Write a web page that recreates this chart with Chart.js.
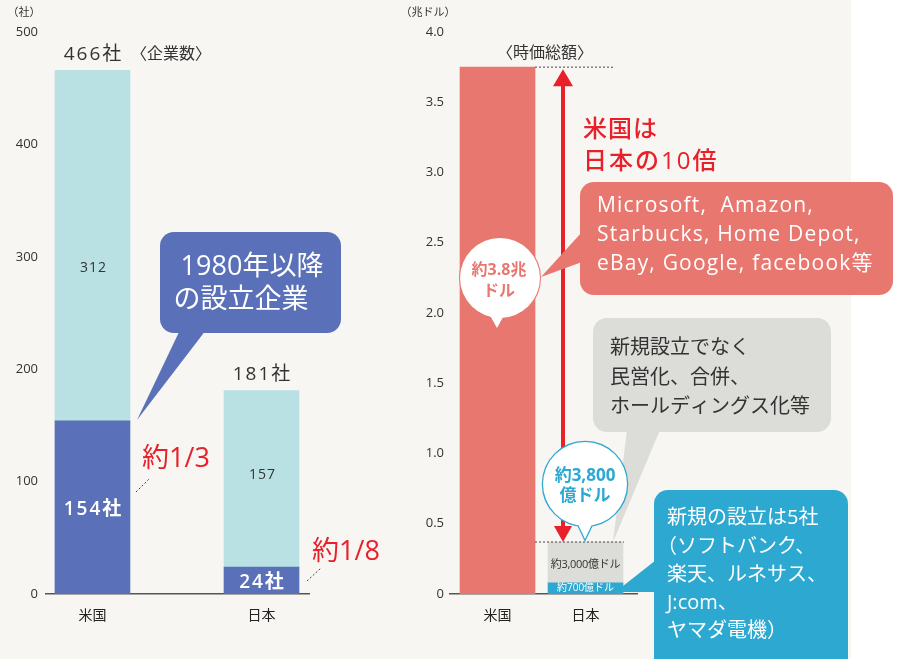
<!DOCTYPE html>
<html>
<head>
<meta charset="utf-8">
<script src="https://cdn.jsdelivr.net/npm/chart.js@4.4.1/dist/chart.umd.min.js"></script>
<style>
    html, body { margin: 0; padding: 0; background: #fff; }
    #bg { position: absolute; left: 0; top: 0; width: 851px; height: 659px; background: #f7f6f2; }
    #wrapA { position: absolute; left: 0; top: 0; width: 400px; height: 659px; }
    #wrapB { position: absolute; left: 400px; top: 0; width: 499px; height: 659px; }
</style>
</head>
<body>
<div id="bg"></div>
<div id="wrapA"><canvas id="firmsChart"></canvas></div>
<div id="wrapB"><canvas id="capChart"></canvas></div>
<script>
// categories
const categories = ['米国', '日本'];

// 企業数 (社): founded after 1980 / other
const firmsNew = [154, 24];
const firmsOther = [312, 157];
const firmTicks = [0, 100, 200, 300, 400, 500];

// 時価総額 (兆ドル)
const capUS = [3.75, null];
const capJpNew = [null, 0.08];
const capJpOther = [null, 0.29];
const capTicks = [0, 0.5, 1.0, 1.5, 2.0, 2.5, 3.0, 3.5, 4.0];
const capTickLabels = ['0', '0.5', '1.0', '1.5', '2.0', '2.5', '3.0', '3.5', '4.0'];

const FONT = '"Open Sans", "Noto Sans CJK JP", sans-serif';
const OX = 400; // left offset of the second canvas

function toPoints(arr) {
    return arr.map((v, i) => (v === null ? null : { x: i, y: v })).filter(p => p);
}

function txt(ctx, s, x, y, size, color, opts = {}) {
    ctx.font = `${opts.weight || 400} ${size}px ${FONT}`;
    ctx.fillStyle = color;
    ctx.textAlign = opts.align || 'center';
    ctx.textBaseline = 'middle';
    ctx.letterSpacing = (opts.ls || 0) + 'px';
    ctx.fillText(s, x, y);
    ctx.letterSpacing = '0px';
}

function poly(ctx, pts, color) {
    ctx.beginPath();
    ctx.moveTo(pts[0][0], pts[0][1]);
    pts.slice(1).forEach(p => ctx.lineTo(p[0], p[1]));
    ctx.closePath();
    ctx.fillStyle = color;
    ctx.fill();
}

function box(ctx, x, y, w, h, r, color, pointer) {
    ctx.beginPath();
    ctx.roundRect(x, y, w, h, r);
    ctx.fillStyle = color;
    ctx.fill();
    if (pointer) poly(ctx, pointer, color);
}

function bubble(ctx, cx, cy, r, tip, stroke, lw) {
    const pts = [[tip[0] - 10, cy + r - 8], [tip[0] + 10, cy + r - 8], tip];
    ctx.lineWidth = lw;
    ctx.strokeStyle = stroke;
    ctx.beginPath();
    ctx.arc(cx, cy, r, 0, Math.PI * 2);
    ctx.stroke();
    ctx.beginPath();
    ctx.moveTo(pts[0][0], pts[0][1]);
    ctx.lineTo(tip[0], tip[1]);
    ctx.lineTo(pts[1][0], pts[1][1]);
    ctx.stroke();
    ctx.fillStyle = '#fff';
    ctx.beginPath();
    ctx.arc(cx, cy, r, 0, Math.PI * 2);
    ctx.fill();
    poly(ctx, pts, '#fff');
}

function dotted(ctx, x1, y1, x2, y2) {
    ctx.save();
    ctx.setLineDash([2, 2]);
    ctx.strokeStyle = '#444';
    ctx.lineWidth = 1;
    ctx.beginPath();
    ctx.moveTo(x1, y1);
    ctx.lineTo(x2, y2);
    ctx.stroke();
    ctx.restore();
}

// ---------- left chart: number of companies ----------
const firmsNotes = {
    id: 'firmsNotes',
    afterDatasetsDraw(chart) {
        const { ctx, scales: { x, y } } = chart;
        ctx.save();
        txt(ctx, '（社）', 24, 13, 11, '#333');

        const otherOffset = [22, -4];
        categories.forEach((c, i) => {
            const cx = x.getPixelForValue(i);
            const total = firmsNew[i] + firmsOther[i];
            txt(ctx, total + '社', cx + 1, y.getPixelForValue(total) - 16, 19, '#333', { ls: 2 });
            const mid = (y.getPixelForValue(firmsNew[i]) + y.getPixelForValue(total)) / 2;
            txt(ctx, String(firmsOther[i]), cx + 1, mid + otherOffset[i], 14, '#333', { ls: 1 });
            const lowMid = (y.getPixelForValue(0) + y.getPixelForValue(firmsNew[i])) / 2;
            txt(ctx, firmsNew[i] + '社', cx + 1, lowMid + 2, 19, '#fff', { weight: 600, ls: 2 });
        });

        txt(ctx, '〈企業数〉', 171, 54, 16, '#333');

        // ratio notes
        txt(ctx, '約1/3', 176, 459, 27, '#e8202a');
        dotted(ctx, 136, 492, 150, 478);
        txt(ctx, '約1/8', 346, 552, 27, '#e8202a');
        dotted(ctx, 307, 581, 321, 568);

        // callout
        box(ctx, 160, 232, 181, 101, 14, '#5a70b8', [[180, 330], [206, 330], [137, 420]]);
        txt(ctx, '1980年以降', 252, 267, 27, '#fff');
        txt(ctx, 'の設立企業', 241, 300, 27, '#fff');
        ctx.restore();
    }
};

new Chart(document.getElementById('firmsChart'), {
    type: 'bar',
    data: {
        datasets: [
            { label: '1980年以降の設立', data: toPoints(firmsNew), backgroundColor: '#5a70b8' },
            { label: 'その他', data: toPoints(firmsOther), backgroundColor: '#b9e1e4' }
        ]
    },
    options: {
        responsive: true,
        maintainAspectRatio: false,
        animation: false,
        devicePixelRatio: 1,
        layout: { padding: { top: 32, right: 91, left: 0, bottom: 0 } },
        datasets: { bar: { barThickness: 75 } },
        plugins: { legend: { display: false }, tooltip: { enabled: false } },
        scales: {
            x: {
                type: 'linear',
                stacked: true,
                offset: false,
                min: -0.275,
                max: 1.281,
                afterBuildTicks: s => { s.ticks = categories.map((c, i) => ({ value: i })); },
                afterFit: s => { s.height = 65; },
                grid: { display: false, drawTicks: false, offset: false },
                border: { display: true, color: '#555', width: 1.5 },
                ticks: {
                    autoSkip: false,
                    maxRotation: 0,
                    padding: 14,
                    color: '#222',
                    font: { size: 14, family: FONT },
                    callback: v => categories[v]
                }
            },
            y: {
                stacked: true,
                min: 0,
                max: 500,
                afterBuildTicks: s => { s.ticks = firmTicks.map(v => ({ value: v })); },
                afterFit: s => { s.width = 46; },
                grid: { display: false, drawTicks: false },
                border: { display: false },
                ticks: { padding: 8, color: '#333', font: { size: 13, family: FONT } }
            }
        }
    },
    plugins: [firmsNotes]
});

// ---------- right chart: market capitalisation ----------
const capNotes = {
    id: 'capNotes',
    afterDatasetsDraw(chart) {
        const { ctx, scales: { x, y } } = chart;
        const px = v => x.getPixelForValue(v) + OX;
        ctx.save();
        ctx.translate(-OX, 0);

        txt(ctx, '（兆ドル）', 428, 13, 11, '#333');
        txt(ctx, '〈時価総額〉', 545, 53, 16, '#333');

        const usTop = y.getPixelForValue(capUS[0]);
        const jpTop = y.getPixelForValue(capJpNew[1] + capJpOther[1]);
        const usRight = px(0) + 37.5;
        const jpRight = px(1) + 37.5;
        dotted(ctx, usRight, usTop, 613, usTop);
        dotted(ctx, usRight, jpTop, jpRight + 1, jpTop);

        // red double arrow
        const ax = 563;
        ctx.strokeStyle = '#e8202a';
        ctx.lineWidth = 4;
        ctx.beginPath();
        ctx.moveTo(ax, usTop + 14);
        ctx.lineTo(ax, jpTop - 14);
        ctx.stroke();
        poly(ctx, [[ax, usTop + 2], [ax - 10, usTop + 19], [ax + 10, usTop + 19]], '#e8202a');
        poly(ctx, [[ax, jpTop], [ax - 9, jpTop - 16], [ax + 9, jpTop - 16]], '#e8202a');

        txt(ctx, '米国は', 583, 130, 24, '#e8202a', { align: 'left', weight: 500, ls: 1 });
        txt(ctx, '日本の10倍', 583, 162, 24, '#e8202a', { align: 'left', weight: 500, ls: 2 });

        // US callout
        box(ctx, 580, 182, 313, 113, 14, '#e8776f', [[582, 232], [582, 262], [541, 277]]);
        txt(ctx, 'Microsoft,  Amazon,', 597, 206, 21, '#fff', { align: 'left', ls: 1.2 });
        txt(ctx, 'Starbucks, Home Depot,', 597, 235, 21, '#fff', { align: 'left', ls: 1.2 });
        txt(ctx, 'eBay, Google, facebook等', 597, 264, 21, '#fff', { align: 'left', ls: 1.2 });

        bubble(ctx, 500, 278, 40, [497, 328], '#e8776f', 2);
        txt(ctx, '約3.8兆', 499, 270, 16, '#e8776f', { weight: 700 });
        txt(ctx, 'ドル', 499, 291, 16, '#e8776f', { weight: 700 });

        // gray callout
        box(ctx, 593, 318, 238, 114, 14, '#dcdcd8', [[627, 430], [660, 430], [613, jpTop]]);
        txt(ctx, '新規設立でなく', 610, 348, 20, '#333', { align: 'left' });
        txt(ctx, '民営化、合併、', 610, 378, 20, '#333', { align: 'left' });
        txt(ctx, 'ホールディングス化等', 610, 407, 20, '#333', { align: 'left' });

        bubble(ctx, 585, 484, 42, [585, 539], '#2da8d0', 2.5);
        txt(ctx, '約3,800', 585, 476, 17, '#2da8d0', { weight: 700 });
        txt(ctx, '億ドル', 585, 496, 17, '#2da8d0', { weight: 700 });

        // labels inside Japan bar
        const jpMid = (y.getPixelForValue(capJpNew[1]) + jpTop) / 2;
        txt(ctx, '約3,000億ドル', px(1), jpMid + 2, 11, '#333', { ls: -0.3 });
        const jpLow = (y.getPixelForValue(0) + y.getPixelForValue(capJpNew[1])) / 2;
        txt(ctx, '約700億ドル', px(1), jpLow, 10, '#fff');

        // blue callout
        box(ctx, 654, 490, 194, 185, 14, '#2da8d0', [[656, 560], [656, 592], [jpRight, 592], [jpRight, 586]]);
        txt(ctx, '新規の設立は5社', 667, 518, 20, '#fff', { align: 'left' });
        txt(ctx, '（ソフトバンク、', 657, 547, 20, '#fff', { align: 'left' });
        txt(ctx, '楽天、ルネサス、', 667, 575, 20, '#fff', { align: 'left' });
        txt(ctx, 'J:com、', 667, 603, 20, '#fff', { align: 'left' });
        txt(ctx, 'ヤマダ電機）', 667, 631, 20, '#fff', { align: 'left' });
        ctx.restore();
    }
};

new Chart(document.getElementById('capChart'), {
    type: 'bar',
    data: {
        datasets: [
            { label: '米国', data: toPoints(capUS), backgroundColor: '#e8776f' },
            { label: '新規設立', data: toPoints(capJpNew), backgroundColor: '#2da8d0' },
            { label: 'その他', data: toPoints(capJpOther), backgroundColor: '#dcdcd8' }
        ]
    },
    options: {
        responsive: true,
        maintainAspectRatio: false,
        animation: false,
        devicePixelRatio: 1,
        layout: { padding: { top: 32, right: 262, left: 0, bottom: 0 } },
        datasets: { bar: { barThickness: 75 } },
        plugins: { legend: { display: false }, tooltip: { enabled: false } },
        scales: {
            x: {
                type: 'linear',
                stacked: true,
                offset: false,
                min: -0.54,
                max: 1.585,
                afterBuildTicks: s => { s.ticks = categories.map((c, i) => ({ value: i })); },
                afterFit: s => { s.height = 65; },
                grid: { display: false, drawTicks: false, offset: false },
                border: { display: true, color: '#555', width: 1.5 },
                ticks: {
                    autoSkip: false,
                    maxRotation: 0,
                    padding: 14,
                    color: '#222',
                    font: { size: 14, family: FONT },
                    callback: v => categories[v]
                }
            },
            y: {
                stacked: true,
                min: 0,
                max: 4,
                afterBuildTicks: s => { s.ticks = capTicks.map(v => ({ value: v })); },
                afterFit: s => { s.width = 50; },
                grid: { display: false, drawTicks: false },
                border: { display: false },
                ticks: {
                    padding: 6,
                    color: '#333',
                    font: { size: 13, family: FONT },
                    callback: (v, i) => capTickLabels[i]
                }
            }
        }
    },
    plugins: [capNotes]
});
</script>
</body>
</html>
